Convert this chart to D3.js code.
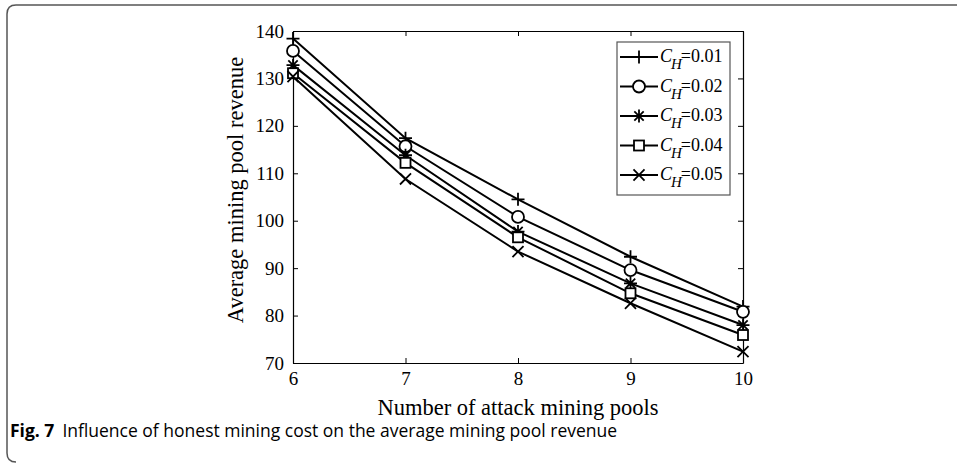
<!DOCTYPE html>
<html><head><meta charset="utf-8">
<script src="https://cdn.jsdelivr.net/npm/d3@7"></script>
<style>body{margin:0;background:#fff}svg{display:block}</style>
</head><body><svg id="c" width="957" height="467"></svg>
<script>
const xValues = [6, 7, 8, 9, 10];
const seriesNames = ["0.01", "0.02", "0.03", "0.04", "0.05"];
const s001 = [138.4, 117.4, 104.5, 92.4, 81.9];
const s002 = [135.8, 115.7, 100.8, 89.6, 80.8];
const s003 = [132.8, 113.8, 97.7, 86.8, 78.0];
const s004 = [131.1, 112.2, 96.5, 84.7, 75.9];
const s005 = [130.4, 108.8, 93.5, 82.6, 72.4];
const seriesValues = [s001, s002, s003, s004, s005];
const markerTypes = ["plus", "circle", "star", "square", "cross"];
const yTicks = [70, 80, 90, 100, 110, 120, 130, 140];
const xLabel = "Number of attack mining pools";
const yLabel = "Average mining pool revenue";
const captionBold = "Fig. 7";
const captionText = "Influence of honest mining cost on the average mining pool revenue";

const svg = d3.select("#c");
const L = 293, R = 743, T = 31, B = 363;
const x = d3.scaleLinear().domain([6, 10]).range([L, R]);
const y = d3.scaleLinear().domain([70, 140]).range([B, T]);

// outer frame
svg.append("path")
  .attr("d", `M957,5 L16,5 Q7,5 7,14 L7,453 Q7,462 16,462`)
  .attr("fill", "none").attr("stroke", "#555").attr("stroke-width", 1.5);

const serif = "'Liberation Serif','Times New Roman',serif";

// axes
const gB = svg.append("g").attr("transform", `translate(0,${B})`)
  .call(d3.axisBottom(x).tickValues(xValues).tickFormat(d3.format("d")).tickSizeInner(-5).tickSizeOuter(0).tickPadding(9));
const gT = svg.append("g").attr("transform", `translate(0,${T})`)
  .call(d3.axisTop(x).tickValues(xValues).tickSizeInner(-5).tickSizeOuter(0).tickFormat(""));
const gL = svg.append("g").attr("transform", `translate(${L},0)`)
  .call(d3.axisLeft(y).tickValues(yTicks).tickFormat(d3.format("d")).tickSizeInner(-5).tickSizeOuter(0).tickPadding(9));
const gR = svg.append("g").attr("transform", `translate(${R},0)`)
  .call(d3.axisRight(y).tickValues(yTicks).tickSizeInner(-5).tickSizeOuter(0).tickFormat(""));
[gB, gT, gL, gR].forEach(g => {
  g.selectAll("path.domain").attr("stroke", "#000").attr("stroke-width", 1.2);
  g.selectAll("line").attr("stroke", "#000").attr("stroke-width", 1);
  g.selectAll("text").attr("font-family", serif).attr("font-size", 19).attr("fill", "#000");
});

// axis labels
svg.append("text").attr("x", (L + R) / 2).attr("y", 415).attr("text-anchor", "middle")
  .attr("font-family", serif).attr("font-size", 22.5).text(xLabel);
svg.append("text").attr("transform", `translate(243,190) rotate(-90)`)
  .attr("text-anchor", "middle").attr("font-family", serif).attr("font-size", 22.5).text(yLabel);

// marker drawing
function marker(g, type, cx, cy) {
  const s = 6.5;
  if (type === "plus") {
    g.append("path").attr("d", `M${cx - s},${cy}H${cx + s}M${cx},${cy - s}V${cy + s}`);
  } else if (type === "circle") {
    g.append("circle").attr("cx", cx).attr("cy", cy).attr("r", 6).attr("fill", "#fff");
  } else if (type === "star") {
    const d = s * 0.72;
    g.append("path").attr("d", `M${cx - s},${cy}H${cx + s}M${cx},${cy - s}V${cy + s}M${cx - d},${cy - d}L${cx + d},${cy + d}M${cx - d},${cy + d}L${cx + d},${cy - d}`);
  } else if (type === "square") {
    g.append("rect").attr("x", cx - 5).attr("y", cy - 5).attr("width", 10).attr("height", 10).attr("fill", "#fff");
  } else if (type === "cross") {
    const d = s * 0.85;
    g.append("path").attr("d", `M${cx - d},${cy - d}L${cx + d},${cy + d}M${cx - d},${cy + d}L${cx + d},${cy - d}`);
  }
}

const line = d3.line().x((d, i) => x(xValues[i])).y(d => y(d));
const plot = svg.append("g");
seriesValues.forEach((vals, k) => {
  plot.append("path").datum(vals).attr("d", line)
    .attr("fill", "none").attr("stroke", "#000").attr("stroke-width", 2);
});
seriesValues.forEach((vals, k) => {
  const g = plot.append("g").attr("stroke", "#000").attr("stroke-width", 1.8).attr("fill", "none");
  vals.forEach((v, i) => marker(g, markerTypes[k], x(xValues[i]), y(v)));
});

// legend
const lg = svg.append("g");
lg.append("rect").attr("x", 617).attr("y", 42).attr("width", 113).attr("height", 153)
  .attr("fill", "#fff").attr("stroke", "#555").attr("stroke-width", 1.2);
seriesNames.forEach((n, k) => {
  const ly = 57 + k * 29.5;
  const g = lg.append("g").attr("stroke", "#000").attr("stroke-width", 1.8).attr("fill", "none");
  g.append("line").attr("x1", 620).attr("x2", 658).attr("y1", ly).attr("y2", ly).attr("stroke-width", 2);
  marker(g, markerTypes[k], 639, ly);
  const t = lg.append("text").attr("x", 660).attr("y", ly + 5)
    .attr("font-family", serif).attr("font-size", 18).attr("fill", "#000");
  t.append("tspan").attr("font-style", "italic").text("C");
  t.append("tspan").attr("font-style", "italic").attr("dy", 7).attr("dx", -1).attr("font-size", 15).text("H");
  t.append("tspan").attr("dy", -7).attr("dx", -1).text("=" + n);
});

// caption
const cap = svg.append("text").attr("x", 10).attr("y", 437)
  .attr("font-family", "'Open Sans','Noto Sans',sans-serif").attr("font-size", 17.5).attr("fill", "#000");
cap.append("tspan").attr("font-weight", "bold").text(captionBold);
cap.append("tspan").attr("dx", 8).text(captionText);
</script></body></html>
